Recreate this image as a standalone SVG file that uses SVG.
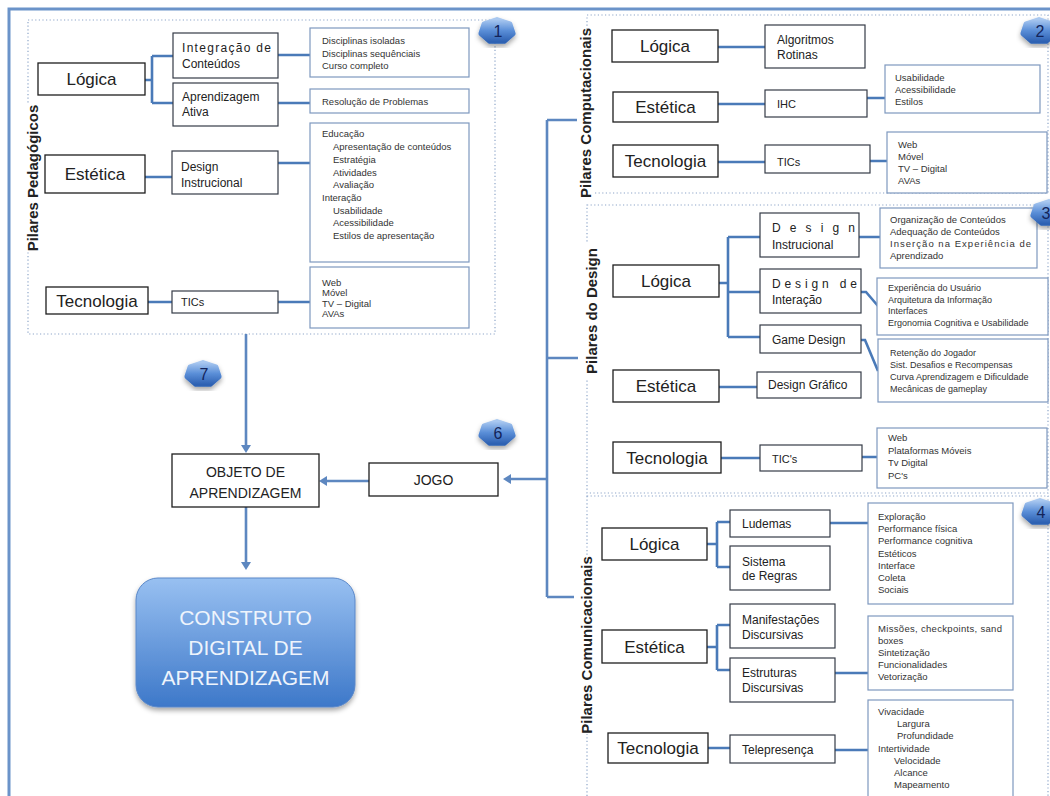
<svg xmlns="http://www.w3.org/2000/svg" xmlns:xlink="http://www.w3.org/1999/xlink" width="1050" height="796" viewBox="0 0 1050 796">
<style>
text{font-family:"Liberation Sans",Arial,sans-serif;}
.cat{fill:#fff;stroke:#1e1e1e;stroke-width:1.3;}
.sub{fill:#fff;stroke:#353b47;stroke-width:1.2;}
.lst{fill:#fff;stroke:#7e98bf;stroke-width:1.2;}
.conn{fill:none;stroke:#4a7ab8;stroke-width:2.6;}
.flow{fill:none;stroke:#5d87c0;stroke-width:2.6;}
.head{fill:#5d87c0;}
.dot{fill:none;stroke:#8ea6c9;stroke-width:1.2;stroke-dasharray:1.2 2.4;}
.tc{font-size:17px;fill:#222;text-anchor:middle;}
.ts{font-size:12px;fill:#222;}
.tl{font-size:9.5px;fill:#333;}
.lab{font-size:15px;font-weight:bold;fill:#222;text-anchor:middle;}
.num{font-size:16px;fill:#13245a;text-anchor:middle;}
.big{font-size:21px;fill:#eef4fc;text-anchor:middle;}
.obj{font-size:14px;fill:#222;text-anchor:middle;}
</style>
<defs>
<linearGradient id="gBadge" x1="0" y1="0" x2="0" y2="1">
<stop offset="0" stop-color="#a9c8f0"/><stop offset="0.5" stop-color="#5b8fd8"/><stop offset="1" stop-color="#2f62b3"/>
</linearGradient>
<linearGradient id="gBig" x1="0" y1="0" x2="0" y2="1">
<stop offset="0" stop-color="#98c0f1"/><stop offset="1" stop-color="#3d78c9"/>
</linearGradient>
<filter id="shadow" x="-20%" y="-20%" width="140%" height="150%">
<feDropShadow dx="0" dy="3" stdDeviation="2.5" flood-color="#000" flood-opacity="0.35"/>
</filter>
<polygon id="badge" points="0,-11.5 12.9,-7.17 16.09,2.56 7.16,10.36 -7.16,10.36 -16.09,2.56 -12.9,-7.17" fill="url(#gBadge)" stroke="url(#gBadge)" stroke-width="5" stroke-linejoin="round" filter="url(#shadow)"/>
</defs>
<rect x="0" y="0" width="1050" height="796" fill="#fff"/>
<path d="M9,800 V9 H1050" fill="none" stroke="#6b93c9" stroke-width="3"/>

<g id="panels">
<rect class="dot" x="28" y="20" width="467" height="314"/>
<rect class="dot" x="587" y="15" width="461" height="178"/>
<rect class="dot" x="587" y="205" width="461" height="288"/>
<rect class="dot" x="587" y="496" width="461" height="310"/>
</g>

<g id="connectors">
<path class="conn" d="M145,80 H152 M152,56 V103 M152,56 H173 M152,103 H173"/>
<path class="conn" d="M278,55 H310 M278,103 H310 M145,177 H172 M278,163 H310 M148,302 H172 M278,302 H310"/>
<path class="conn" d="M718,47 H765 M718,104 H765 M867,98 H885 M718,162 H765 M870,161 H887"/>
<path class="conn" d="M719,283 H728 M728,237 V337 M728,237 H760 M728,292 H760 M728,337 H760"/>
<path class="conn" d="M859,237 H880 M861,292 H866 L878,306 M861,340 H865 L878,371 M719,387 H757 M721,458 H760 M862,457 H877"/>
<path class="conn" d="M707,544 H717 M717,522 V567 M717,522 H730 M717,567 H730 M830,523 H868"/>
<path class="conn" d="M707,647 H717 M717,625 V670 M717,625 H730 M717,670 H730 M835,673 H868 M708,748 H730 M835,750 H868"/>
<path class="flow" d="M547,120 V597 M547,120 H578 M547,358 H578 M547,597 H574"/>
<path class="flow" d="M547,479 H510"/>
<polygon class="head" points="511,474 511,484 503,479"/>
<path class="flow" d="M369,481 H326"/>
<polygon class="head" points="327,476 327,486 319,481"/>
<path class="flow" d="M246,334 V446"/>
<polygon class="head" points="241,445 251,445 246,453"/>
<path class="flow" d="M246,507 V563"/>
<polygon class="head" points="241,562 251,562 246,570"/>
</g>

<g id="labels">
<rect x="24" y="104" width="18" height="148" fill="#fff"/>
<text class="lab" transform="rotate(-90 33 178)" x="33" y="183">Pilares Pedagógicos</text>
<rect x="577" y="30" width="18" height="166" fill="#fff"/>
<text class="lab" transform="rotate(-90 586 113)" x="586" y="118">Pilares Computacionais</text>
<rect x="583" y="243" width="18" height="136" fill="#fff"/>
<text class="lab" transform="rotate(-90 592 311)" x="592" y="316">Pilares do Design</text>
<rect x="578" y="556" width="18" height="178" fill="#fff"/>
<text class="lab" transform="rotate(-90 587 645)" x="587" y="650">Pilares Comunicacionais</text>
</g>

<g id="p1-logica"><rect class="cat" x="38" y="63" width="107" height="32"/><text class="tc" x="91.5" y="85">Lógica</text></g>
<g id="p1-integracao"><rect class="sub" x="173" y="33" width="105" height="45"/><text class="ts" x="182" y="52" textLength="89" lengthAdjust="spacing">Integração de</text><text class="ts" x="182" y="68">Conteúdos</text></g>
<g id="p1-aprendizagem"><rect class="sub" x="173" y="83" width="105" height="43"/><text class="ts" x="182" y="101">Aprendizagem</text><text class="ts" x="182" y="116">Ativa</text></g>
<g id="p1-disciplinas"><rect class="lst" x="310" y="28" width="159" height="49"/><text class="tl" x="322" y="44">Disciplinas isoladas</text><text class="tl" x="322" y="56.5">Disciplinas sequênciais</text><text class="tl" x="322" y="69">Curso completo</text></g>
<g id="p1-resolucao"><rect class="lst" x="310" y="89" width="159" height="24"/><text class="tl" x="322" y="105">Resolução de Problemas</text></g>
<g id="p1-estetica"><rect class="cat" x="45" y="155" width="100" height="38"/><text class="tc" x="95" y="180">Estética</text></g>
<g id="p1-design"><rect class="sub" x="172" y="151" width="106" height="43"/><text class="ts" x="181" y="171">Design</text><text class="ts" x="181" y="187">Instrucional</text></g>
<g id="p1-educacao"><rect class="lst" x="310" y="123" width="159" height="139"/>
<text class="tl" x="322" y="137">Educação</text>
<text class="tl" x="333" y="150">Apresentação de conteúdos</text>
<text class="tl" x="333" y="163">Estratégia</text>
<text class="tl" x="333" y="176">Atividades</text>
<text class="tl" x="333" y="188">Avaliação</text>
<text class="tl" x="322" y="201">Interação</text>
<text class="tl" x="333" y="214">Usabilidade</text>
<text class="tl" x="333" y="226">Acessibilidade</text>
<text class="tl" x="333" y="239">Estilos de apresentação</text></g>
<g id="p1-tecnologia"><rect class="cat" x="46" y="287" width="102" height="27"/><text class="tc" x="97" y="306.5">Tecnologia</text></g>
<g id="p1-tics"><rect class="sub" x="172" y="291" width="106" height="22"/><text class="ts" x="181" y="306" style="font-size:11px">TICs</text></g>
<g id="p1-web"><rect class="lst" x="310" y="267" width="159" height="61"/><text class="tl" x="322" y="285.5">Web</text><text class="tl" x="322" y="296">Móvel</text><text class="tl" x="322" y="306.5">TV – Digital</text><text class="tl" x="322" y="317">AVAs</text></g>

<g id="p2-logica"><rect class="cat" x="612" y="30" width="106" height="32"/><text class="tc" x="665" y="52">Lógica</text></g>
<g id="p2-algoritmos"><rect class="sub" x="765" y="25" width="100" height="43"/><text class="ts" x="777" y="44">Algoritmos</text><text class="ts" x="777" y="59">Rotinas</text></g>
<g id="p2-estetica"><rect class="cat" x="613" y="92" width="105" height="30"/><text class="tc" x="665.5" y="113">Estética</text></g>
<g id="p2-ihc"><rect class="sub" x="765" y="90" width="102" height="27"/><text class="ts" x="777" y="108" style="font-size:11px">IHC</text></g>
<g id="p2-usabilidade"><rect class="lst" x="885" y="65" width="155" height="48"/><text class="tl" x="895" y="81">Usabilidade</text><text class="tl" x="895" y="93">Acessibilidade</text><text class="tl" x="895" y="105">Estilos</text></g>
<g id="p2-tecnologia"><rect class="cat" x="613" y="145" width="105" height="32"/><text class="tc" x="665.5" y="167">Tecnologia</text></g>
<g id="p2-tics"><rect class="sub" x="765" y="145" width="105" height="28"/><text class="ts" x="777" y="166" style="font-size:11px">TICs</text></g>
<g id="p2-web"><rect class="lst" x="887" y="132" width="160" height="61"/><text class="tl" x="898" y="148">Web</text><text class="tl" x="898" y="160">Móvel</text><text class="tl" x="898" y="172">TV – Digital</text><text class="tl" x="898" y="184">AVAs</text></g>

<g id="p3-logica"><rect class="cat" x="613" y="265" width="106" height="32"/><text class="tc" x="666" y="287">Lógica</text></g>
<g id="p3-di"><rect class="sub" x="760" y="213" width="99" height="44"/><text class="ts" x="772" y="232" textLength="83" lengthAdjust="spacing">Design</text><text class="ts" x="772" y="249">Instrucional</text></g>
<g id="p3-dint"><rect class="sub" x="760" y="269" width="101" height="44"/><text class="ts" x="772" y="288" textLength="85" lengthAdjust="spacing">Design de</text><text class="ts" x="772" y="304">Interação</text></g>
<g id="p3-game"><rect class="sub" x="760" y="325" width="101" height="28"/><text class="ts" x="772" y="344">Game Design</text></g>
<g id="p3-estetica"><rect class="cat" x="613" y="370" width="106" height="32"/><text class="tc" x="666" y="392">Estética</text></g>
<g id="p3-grafico"><rect class="sub" x="757" y="372" width="104" height="26"/><text class="ts" x="768" y="389">Design Gráfico</text></g>
<g id="p3-tecnologia"><rect class="cat" x="613" y="442" width="108" height="31"/><text class="tc" x="667" y="463.5">Tecnologia</text></g>
<g id="p3-tics"><rect class="sub" x="760" y="445" width="102" height="26"/><text class="ts" x="772" y="463" style="font-size:11px">TIC's</text></g>
<g id="p3-organizacao"><rect class="lst" x="880" y="208" width="157" height="60"/><text class="tl" x="890" y="223">Organização de Conteúdos</text><text class="tl" x="890" y="235">Adequação de Conteúdos</text><text class="tl" x="890" y="247" textLength="141" lengthAdjust="spacing">Inserção na Experiência de</text><text class="tl" x="890" y="259">Aprendizado</text></g>
<g id="p3-experiencia"><rect class="lst" x="877" y="278" width="171" height="57"/><text class="tl" x="888" y="291" style="font-size:9px">Experiência do Usuário</text><text class="tl" x="888" y="302.5" style="font-size:9px">Arquitetura da Informação</text><text class="tl" x="888" y="314" style="font-size:9px">Interfaces</text><text class="tl" x="888" y="325.5" style="font-size:9px">Ergonomia Cognitiva e Usabilidade</text></g>
<g id="p3-retencao"><rect class="lst" x="878" y="339" width="170" height="63"/><text class="tl" x="890" y="356" style="font-size:9px">Retenção do Jogador</text><text class="tl" x="890" y="368" style="font-size:9px">Sist. Desafios e Recompensas</text><text class="tl" x="890" y="380" style="font-size:9px">Curva Aprendizagem e Dificuldade</text><text class="tl" x="890" y="392" style="font-size:9px">Mecânicas de gameplay</text></g>
<g id="p3-web"><rect class="lst" x="877" y="428" width="170" height="60"/><text class="tl" x="888" y="441">Web</text><text class="tl" x="888" y="453.5">Plataformas Móveis</text><text class="tl" x="888" y="466">Tv Digital</text><text class="tl" x="888" y="479">PC's</text></g>

<g id="p4-logica"><rect class="cat" x="602" y="528" width="105" height="32"/><text class="tc" x="654.5" y="550">Lógica</text></g>
<g id="p4-ludemas"><rect class="sub" x="730" y="510" width="100" height="27"/><text class="ts" x="742" y="528">Ludemas</text></g>
<g id="p4-sistema"><rect class="sub" x="730" y="546" width="100" height="44"/><text class="ts" x="742" y="566">Sistema</text><text class="ts" x="742" y="580">de Regras</text></g>
<g id="p4-exploracao"><rect class="lst" x="868" y="503" width="145" height="101"/>
<text class="tl" x="878" y="520">Exploração</text>
<text class="tl" x="878" y="532.2">Performance física</text>
<text class="tl" x="878" y="544.4">Performance cognitiva</text>
<text class="tl" x="878" y="556.6">Estéticos</text>
<text class="tl" x="878" y="568.8">Interface</text>
<text class="tl" x="878" y="581">Coleta</text>
<text class="tl" x="878" y="593.2">Sociais</text></g>
<g id="p4-estetica"><rect class="cat" x="602" y="630" width="105" height="33"/><text class="tc" x="654.5" y="653">Estética</text></g>
<g id="p4-manifestacoes"><rect class="sub" x="730" y="604" width="105" height="44"/><text class="ts" x="742" y="624">Manifestações</text><text class="ts" x="742" y="639">Discursivas</text></g>
<g id="p4-estruturas"><rect class="sub" x="730" y="658" width="105" height="44"/><text class="ts" x="742" y="677">Estruturas</text><text class="ts" x="742" y="692">Discursivas</text></g>
<g id="p4-missoes"><rect class="lst" x="868" y="616" width="145" height="74"/>
<text class="tl" x="878" y="632" textLength="124" lengthAdjust="spacing">Missões, checkpoints, sand</text>
<text class="tl" x="878" y="644">boxes</text>
<text class="tl" x="878" y="656">Sintetização</text>
<text class="tl" x="878" y="668">Funcionalidades</text>
<text class="tl" x="878" y="680">Vetorização</text></g>
<g id="p4-tecnologia"><rect class="cat" x="608" y="733" width="100" height="30"/><text class="tc" x="658" y="754">Tecnologia</text></g>
<g id="p4-telepresenca"><rect class="sub" x="730" y="735" width="105" height="28"/><text class="ts" x="742" y="754">Telepresença</text></g>
<g id="p4-vivacidade"><rect class="lst" x="868" y="700" width="145" height="110"/>
<text class="tl" x="878" y="715">Vivacidade</text>
<text class="tl" x="897" y="727">Largura</text>
<text class="tl" x="897" y="739">Profundidade</text>
<text class="tl" x="878" y="752">Intertividade</text>
<text class="tl" x="894" y="764">Velocidade</text>
<text class="tl" x="894" y="776">Alcance</text>
<text class="tl" x="894" y="788">Mapeamento</text></g>

<g id="objeto"><rect class="cat" x="172" y="454" width="147" height="53"/><text class="obj" x="245.5" y="477">OBJETO DE</text><text class="obj" x="245.5" y="498">APRENDIZAGEM</text></g>
<g id="jogo"><rect class="cat" x="369" y="463" width="129" height="33"/><text class="obj" x="433.5" y="485">JOGO</text></g>
<g id="construto"><rect x="136" y="578" width="219" height="129" rx="22" ry="22" fill="url(#gBig)" stroke="#5a87c8" stroke-width="1" filter="url(#shadow)"/>
<text class="big" x="245.5" y="624.5">CONSTRUTO</text><text class="big" x="245.5" y="654.5">DIGITAL DE</text><text class="big" x="245.5" y="684.5">APRENDIZAGEM</text></g>

<g id="badge1"><use xlink:href="#badge" transform="translate(497,31)"/><text class="num" x="498" y="37">1</text></g>
<g id="badge2"><use xlink:href="#badge" transform="translate(1039,31)"/><text class="num" x="1040" y="37">2</text></g>
<g id="badge3"><use xlink:href="#badge" transform="translate(1049,213)"/><text class="num" x="1046" y="219">3</text></g>
<g id="badge4"><use xlink:href="#badge" transform="translate(1040,512)"/><text class="num" x="1041" y="518">4</text></g>
<g id="badge6"><use xlink:href="#badge" transform="translate(497,433)"/><text class="num" x="498" y="439">6</text></g>
<g id="badge7"><use xlink:href="#badge" transform="translate(203,374)"/><text class="num" x="204" y="380">7</text></g>
</svg>
